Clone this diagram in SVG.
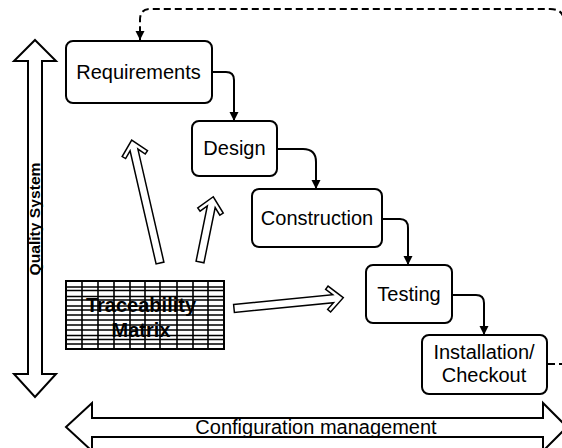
<svg xmlns="http://www.w3.org/2000/svg" width="562" height="448" viewBox="0 0 562 448">
<style>
.box{fill:#fff;stroke:#000;stroke-width:2}
.lbl{font-family:"Liberation Sans",Arial,sans-serif;font-size:20px;fill:#000;text-anchor:middle}
.bold{font-weight:bold}
.con{fill:none;stroke:#000;stroke-width:2}
.dash{fill:none;stroke:#000;stroke-width:2;stroke-dasharray:7,4}
.big{fill:#fff;stroke:#000;stroke-width:2}
.open{fill:#fff;stroke:#000;stroke-width:1.5;stroke-linejoin:miter}
.grid{stroke:#000;stroke-width:1.6;fill:none}
</style>
<defs>
<marker id="ah" viewBox="0 0 10 10" refX="10" refY="5" markerWidth="4.5" markerHeight="5" orient="auto" markerUnits="strokeWidth">
<path d="M0,0 L10,5 L0,10 z" fill="#000"/>
</marker>
</defs>

<g id="quality-system">
<polygon class="big" points="35,40 56,61 42,61 42,374 56,374 35,397 14,374 28,374 28,61 14,61"/>
<text class="lbl bold" style="font-size:15px" transform="translate(40,219) rotate(-90)" textLength="113" lengthAdjust="spacingAndGlyphs">Quality System</text>
</g>

<g id="configuration-management">
<polygon class="big" points="66,427 92,403 92,418 543,418 543,403 567,427 543,451 543,437 92,437 92,451"/>
<text class="lbl" x="316" y="434">Configuration management</text>
</g>

<g id="connectors">
<path class="con" d="M212,72 H226 Q234,72 234,80 V121" marker-end="url(#ah)"/>
<path class="con" d="M277,149 H303 Q316,149 316,162 V189" marker-end="url(#ah)"/>
<path class="con" d="M382,219 H400 Q408,219 408,228 V265" marker-end="url(#ah)"/>
<path class="con" d="M452,295 H476 Q484,295 484,303 V335" marker-end="url(#ah)"/>
<path class="dash" d="M548,364 H564 V22 Q564,9 550,9 H150 Q140,9 140,20 V40" marker-end="url(#ah)"/>
</g>

<g id="trace-arrows">
<polygon class="open" transform="translate(160,263) rotate(-102.96)" points="0,-4 116,-4 109.5,-10.07 112.2,-13 126.2,0 112.2,13 109.5,10.07 116,4 0,4"/>
<polygon class="open" transform="translate(200,262) rotate(-78.49)" points="0,-4 56.4,-4 49.9,-10.07 52.6,-13 66.6,0 52.6,13 49.9,10.07 56.4,4 0,4"/>
<polygon class="open" transform="translate(234,308.5) rotate(-5.64)" points="0,-4 99.6,-4 93.1,-10.07 95.8,-13 109.8,0 95.8,13 93.1,10.07 99.6,4 0,4"/>
</g>

<g id="requirements">
<rect class="box" x="66" y="41" width="146" height="62" rx="7"/>
<text class="lbl" x="138.5" y="79">Requirements</text>
</g>
<g id="design">
<rect class="box" x="192" y="121" width="85" height="55" rx="7"/>
<text class="lbl" x="234.5" y="155">Design</text>
</g>
<g id="construction">
<rect class="box" x="252" y="189" width="130" height="58" rx="7"/>
<text class="lbl" x="317" y="225">Construction</text>
</g>
<g id="testing">
<rect class="box" x="366" y="265" width="86" height="58" rx="7"/>
<text class="lbl" x="409" y="301">Testing</text>
</g>
<g id="installation">
<rect class="box" x="422" y="335" width="125" height="59" rx="7"/>
<text class="lbl" x="484" y="359">Installation/</text>
<text class="lbl" x="484" y="382">Checkout</text>
</g>

<g id="traceability-matrix">
<rect x="66" y="281" width="158" height="68" fill="#fff" stroke="#000" stroke-width="2"/>
<path class="grid" d="M82,281V349 M98,281V349 M114,281V349 M130,281V349 M145,281V349 M160,281V349 M177,281V349 M193,281V349 M208,281V349
M66,287H224 M66,290.5H224 M66,296.5H224 M66,300H224 M66,306H224 M66,310H224 M66,315H224 M66,320H224 M66,325H224 M66,330H224 M66,335.5H224 M66,339.5H224 M66,344H224"/>
<text class="lbl bold" x="141" y="311.5">Traceability</text>
<text class="lbl bold" x="141" y="336.5">Matrix</text>
</g>
</svg>
